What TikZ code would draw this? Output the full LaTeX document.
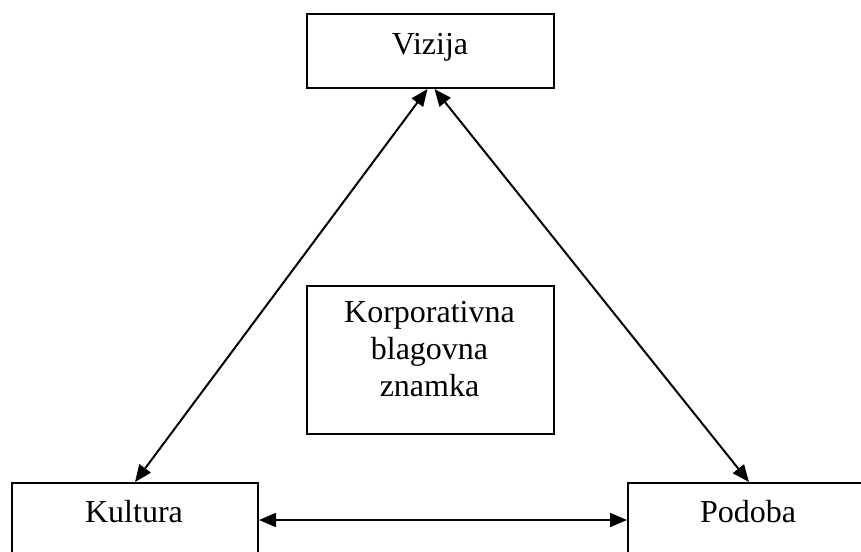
\documentclass[tikz,border=0pt]{standalone}
\usepackage{fontspec}
\setmainfont{Liberation Serif}
\usetikzlibrary{arrows.meta}
\begin{document}
\begin{tikzpicture}[x=1pt,y=-1pt,
  box/.style={draw,line width=2pt,inner sep=0pt,anchor=north west},
  lbl/.style={font=\fontsize{32}{37}\selectfont,inner sep=0pt,anchor=base,align=center},
  tip/.style={Triangle[length=17pt,width=14pt]},
  link/.style={line width=2pt,{Triangle[length=17pt,width=14pt]}-{Triangle[length=17pt,width=14pt]}}]
\useasboundingbox (0,0) rectangle (861,551);
\begin{scope}
\clip (0,0) rectangle (861,551);
% boxes
\node[box,minimum width=247pt,minimum height=74pt] (viz) at (306,13) {};
\node[box,minimum width=247pt,minimum height=148pt] (core) at (306,285) {};
\node[box,minimum width=246pt,minimum height=74pt] (kul) at (11,482) {};
\node[box,minimum width=242pt,minimum height=74pt] (pod) at (627,482) {};
% labels
\node[lbl] (tviz) at (430,55) {Vizija};
\node[lbl,anchor=north] (tcore) at (429.5,301) {Korporativna\\blagovna\\znamka};
\node[lbl] (tkul) at (134,522) {Kultura};
\node[lbl] (tpod) at (748,522) {Podoba};
% connectors
\draw[link] ([xshift=-3pt]viz.south) -- (kul.north);
\draw[link] ([xshift=4pt]viz.south) -- (pod.north);
\draw[link] (kul.east) -- (pod.west);
\end{scope}
\end{tikzpicture}
\end{document}
